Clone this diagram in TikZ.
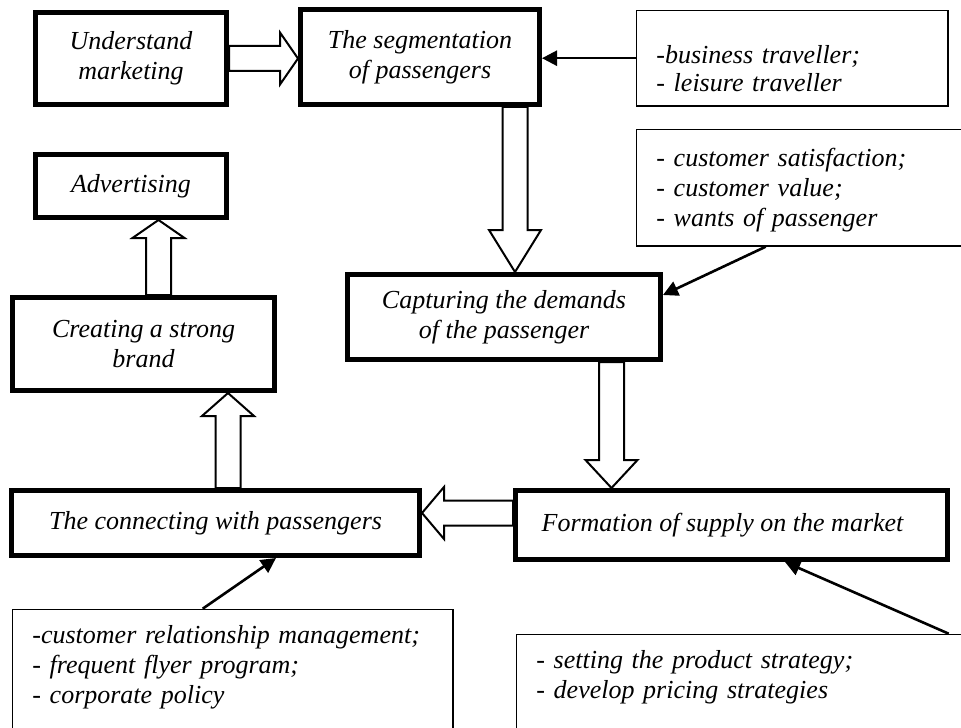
\documentclass[tikz,border=0pt]{standalone}
\usepackage{fontspec}
\setmainfont{Liberation Serif}
\usetikzlibrary{calc,arrows.meta}
\begin{document}
\begin{tikzpicture}[x=0.5pt, y=-0.5pt,
  stage/.style = {draw, line width=2.6pt, inner sep=0pt, align=center, font=\fontsize{13}{15}\selectfont\itshape},
  note/.style = {draw, line width=0.7pt, anchor=north west, inner xsep=10pt, inner ysep=0pt, align=left, font=\fontsize{13}{15}\selectfont\itshape},
  link/.style = {line width=1.3pt, -{Triangle[length=7.5pt,width=7.5pt]}},
  hollow/.style = {draw, fill=white, line width=1pt, to path={
      ($(\tikztostart)!6.25pt!90:(\tikztotarget)$)
      -- ($($(\tikztotarget)!#1!(\tikztostart)$)!6.25pt!90:(\tikztotarget)$)
      -- ($($(\tikztotarget)!#1!(\tikztostart)$)!13pt!90:(\tikztotarget)$)
      -- (\tikztotarget)
      -- ($($(\tikztotarget)!#1!(\tikztostart)$)!13pt!-90:(\tikztotarget)$)
      -- ($($(\tikztotarget)!#1!(\tikztostart)$)!6.25pt!-90:(\tikztotarget)$)
      -- ($(\tikztostart)!6.25pt!-90:(\tikztotarget)$) -- cycle}}]
  \clip (0,0) rectangle (961,727);
  \path[use as bounding box] (0,0) rectangle (961,727);

  \node[stage, minimum width=95.4pt, minimum height=45.9pt]  (under)   at (131,58.5)  {Understand\\marketing};
  \node[stage, minimum width=119.4pt, minimum height=47.4pt] (segm)    at (420,57)    {The segmentation\\of passengers};
  \node[stage, minimum width=95.4pt, minimum height=31.4pt]  (advert)  at (131,186)   {Advertising};
  \node[stage, minimum width=130.9pt, minimum height=46.4pt] (brand)   at (143.5,344) {Creating a strong\\brand};
  \node[stage, minimum width=156.4pt, minimum height=42.4pt] (demand)  at (504,317)   {Capturing the demands\\of the passenger};
  \node[stage, minimum width=203.9pt, minimum height=32.4pt] (connect) at (215.5,523) {The connecting with passengers};
  \node[stage, minimum width=215.9pt, minimum height=34.4pt] (supply)  at (731.5,525) {Formation of supply on the market\hspace{9pt}};

  \node[note, text width=135.8pt, text height=26.4pt, text depth=21.4pt, font=\fontsize{13}{14}\selectfont\itshape] (segs) at (635.7,9.7) {-business traveller;\\- leisure traveller};
  \node[note, text width=150pt, text height=18.4pt, text depth=39.9pt]   (wants) at (635.7,128.7) {- customer satisfaction;\\- customer value;\\- wants of passenger};
  \node[note, text width=200.3pt, text height=16.9pt, text depth=58pt]   (crm)   at (11.7,608.7)  {-customer relationship management;\\- frequent flyer program;\\- corporate policy};
  \node[note, text width=222pt, text height=16.9pt, text depth=58pt]     (price) at (515.7,633.7) {- setting the product strategy;\\- develop pricing strategies};

  \coordinate (b1) at (under.east -| segm.west);
  \coordinate (a2) at ([xshift=47.5pt]segm.south);
  \coordinate (b2) at (a2 |- demand.north);
  \coordinate (a3) at ([xshift=7.5pt]brand.north);
  \coordinate (b3) at (a3 |- advert.south);
  \coordinate (a4) at ([xshift=6.25pt]connect.north);
  \coordinate (b4) at (a4 |- brand.south);
  \coordinate (a5) at ([yshift=6pt]supply.west);
  \coordinate (b5) at (a5 -| connect.east);
  \coordinate (a6) at ([xshift=53.75pt]demand.south);
  \coordinate (b6) at (a6 |- supply.north);

  \draw[hollow=9pt]    (under.east) to (b1);
  \draw[hollow=21pt]   (a2) to (b2);
  \draw[hollow=9pt]    (a3) to (b3);
  \draw[hollow=11.5pt] (a4) to (b4);
  \draw[hollow=11pt]   (a5) to (b5);
  \draw[hollow=14pt]   (a6) to (b6);

  \coordinate (b7) at (segs.west -| segm.east);
  \draw[link] (segs.west) -- (b7);
  \draw[link] ([xshift=65pt]wants.south west) -- ([yshift=11pt]demand.east);
  \draw[link] ([xshift=95.5pt]crm.north west) -- ([xshift=30.25pt]connect.south);
  \draw[link] ([xshift=216.5pt]price.north west) -- ([xshift=26.75pt]supply.south);
\end{tikzpicture}
\end{document}
